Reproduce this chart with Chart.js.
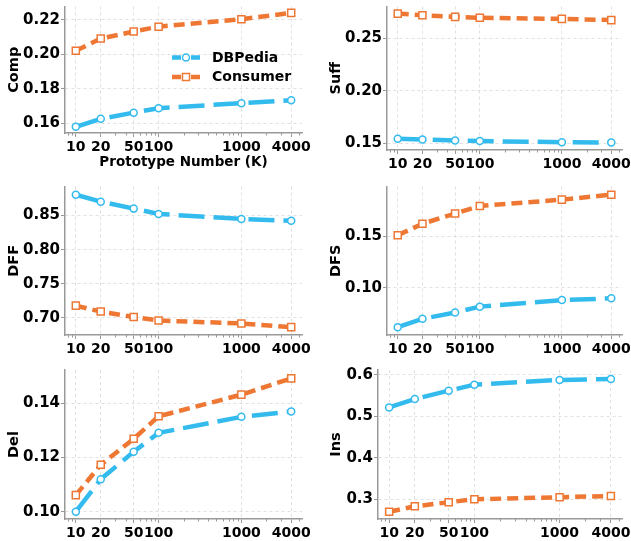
<!DOCTYPE html>
<html>
<head>
<meta charset="utf-8">
<script src="https://cdn.jsdelivr.net/npm/chart.js@4.4.0/dist/chart.umd.min.js"></script>
<style>
    body { margin: 0; background: #fff; }
    #wrap { position: relative; width: 631px; height: 541px; }
    canvas { position: absolute; }
</style>
</head>
<body>
<div id="wrap">
    <canvas id="c-comp" width="315" height="180" style="left:0;top:0"></canvas>
    <canvas id="c-suff" width="316" height="180" style="left:315px;top:0"></canvas>
    <canvas id="c-dff" width="315" height="180" style="left:0;top:180px"></canvas>
    <canvas id="c-dfs" width="316" height="180" style="left:315px;top:180px"></canvas>
    <canvas id="c-del" width="315" height="181" style="left:0;top:360px"></canvas>
    <canvas id="c-ins" width="316" height="181" style="left:315px;top:360px"></canvas>
</div>
<script>
'use strict';

var prototypes = [10, 20, 50, 100, 1000, 4000];
var minorTicks = [8, 9, 30, 40, 60, 70, 80, 90, 200, 300, 400, 500, 600, 700, 800, 900, 2000, 3000, 5000];
var seriesNames = ['DBPedia', 'Consumer'];

var compDBPedia = [0.1580, 0.1626, 0.1662, 0.1688, 0.1717, 0.1734];
var compConsumer = [0.2021, 0.2092, 0.2133, 0.2161, 0.2204, 0.2241];
var suffDBPedia = [0.1543, 0.1535, 0.1525, 0.1520, 0.1510, 0.1507];
var suffConsumer = [0.2738, 0.2722, 0.2707, 0.2698, 0.2688, 0.2676];
var dffDBPedia = [0.8804, 0.8703, 0.8601, 0.8523, 0.8450, 0.8422];
var dffConsumer = [0.7180, 0.7093, 0.7014, 0.6962, 0.6919, 0.6865];
var dfsDBPedia = [0.0620, 0.0700, 0.0761, 0.0818, 0.0881, 0.0898];
var dfsConsumer = [0.1507, 0.1618, 0.1717, 0.1790, 0.1851, 0.1899];
var delDBPedia = [0.1000, 0.1120, 0.1221, 0.1291, 0.1350, 0.1370];
var delConsumer = [0.1061, 0.1173, 0.1269, 0.1352, 0.1432, 0.1492];
var insDBPedia = [0.5217, 0.5420, 0.5620, 0.5766, 0.5880, 0.5900];
var insConsumer = [0.2700, 0.2830, 0.2928, 0.3000, 0.3050, 0.3080];

var compTicks = [0.16, 0.18, 0.20, 0.22];
var suffTicks = [0.15, 0.20, 0.25];
var dffTicks = [0.70, 0.75, 0.80, 0.85];
var dfsTicks = [0.10, 0.15];
var delTicks = [0.10, 0.12, 0.14];
var insTicks = [0.3, 0.4, 0.5, 0.6];

var BLUE = '#33BBEE';
var ORANGE = '#EE7733';
var FONT = '"DejaVu Sans", sans-serif';

var panels = [
    { id: 'c-comp', label: 'Comp', db: compDBPedia, cs: compConsumer, ticks: compTicks, dec: 2, ymin: 0.1544, ymax: 0.2278, yw: 65, xh: 47, top: 2, right: 13, tpad: 7, xTitle: true, legend: true },
    { id: 'c-suff', label: 'Suff', db: suffDBPedia, cs: suffConsumer, ticks: suffTicks, dec: 2, ymin: 0.1435, ymax: 0.2806, yw: 72, xh: 30, top: 2, right: 9, tpad: 14 },
    { id: 'c-dff', label: 'DFF', db: dffDBPedia, cs: dffConsumer, ticks: dffTicks, dec: 2, ymin: 0.675, ymax: 0.8925, yw: 65, xh: 25, top: 5, right: 13, tpad: 7 },
    { id: 'c-dfs', label: 'DFS', db: dfsDBPedia, cs: dfsConsumer, ticks: dfsTicks, dec: 2, ymin: 0.0544, ymax: 0.1978, yw: 72, xh: 25, top: 5, right: 9, tpad: 14 },
    { id: 'c-del', label: 'Del', db: delDBPedia, cs: delConsumer, ticks: delTicks, dec: 2, ymin: 0.0973, ymax: 0.1523, yw: 65, xh: 22, top: 10, right: 13, tpad: 7 },
    { id: 'c-ins', label: 'Ins', db: insDBPedia, cs: insConsumer, ticks: insTicks, dec: 1, ymin: 0.2524, ymax: 0.612, yw: 63, xh: 22, top: 10, right: 9, tpad: 14 }
];

// small log-axis minor ticks, like matplotlib
var minorTickPlugin = {
    id: 'minorTicks',
    afterDraw: function (chart) {
        var sx = chart.scales.x;
        var ctx = chart.ctx;
        var y0 = chart.chartArea.bottom;
        ctx.save();
        ctx.strokeStyle = '#999';
        ctx.lineWidth = 1;
        ctx.beginPath();
        minorTicks.forEach(function (v) {
            var px = Math.round(sx.getPixelForValue(v)) + 0.5;
            if (px < chart.chartArea.left || px > chart.chartArea.right) return;
            ctx.moveTo(px, y0);
            ctx.lineTo(px, y0 + 2.5);
        });
        ctx.stroke();
        ctx.restore();
    }
};

// legend drawn inside the first panel
var innerLegendPlugin = {
    id: 'innerLegend',
    afterDraw: function (chart, args, opts) {
        if (!opts.show) return;
        var ctx = chart.ctx;
        var rows = [57.5, 77];
        chart.data.datasets.forEach(function (ds, i) {
            var y = rows[i];
            ctx.save();
            ctx.strokeStyle = ds.borderColor;
            ctx.lineWidth = ds.borderWidth;
            ctx.beginPath();
            ctx.moveTo(172, y);
            ctx.lineTo(181, y);
            ctx.moveTo(191, y);
            ctx.lineTo(200, y);
            ctx.stroke();
            ctx.fillStyle = ds.pointBackgroundColor;
            ctx.lineWidth = ds.pointBorderWidth;
            ctx.beginPath();
            if (ds.pointStyle === 'rect') {
                var s = ds.pointRadius * Math.SQRT1_2;
                ctx.rect(186 - s, y - s, 2 * s, 2 * s);
            } else {
                ctx.arc(186, y, ds.pointRadius, 0, Math.PI * 2);
            }
            ctx.fill();
            ctx.stroke();
            ctx.fillStyle = '#000';
            ctx.font = 'bold 14px ' + FONT;
            ctx.textBaseline = 'middle';
            ctx.fillText(ds.label, 212, y + 0.5);
            ctx.restore();
        });
    }
};

function toPoints(values) {
    return prototypes.map(function (p, i) { return { x: p, y: values[i] }; });
}

panels.forEach(function (p) {
    var datasets = [
        {
            label: seriesNames[0],
            data: toPoints(p.db),
            borderColor: BLUE,
            borderWidth: 4.5,
            borderDash: [26, 9],
            pointStyle: 'circle',
            pointRadius: 3.5,
            pointBorderWidth: 1.5,
            pointBackgroundColor: '#fff',
            pointBorderColor: BLUE,
            tension: 0
        },
        {
            label: seriesNames[1],
            data: toPoints(p.cs),
            borderColor: ORANGE,
            borderWidth: 4.5,
            borderDash: [11, 6],
            pointStyle: 'rect',
            pointRadius: 5,
            pointBorderWidth: 1.5,
            pointBackgroundColor: '#fff',
            pointBorderColor: ORANGE,
            tension: 0
        }
    ];

    new Chart(document.getElementById(p.id), {
        type: 'line',
        data: { datasets: datasets },
        plugins: [minorTickPlugin, innerLegendPlugin],
        options: {
            responsive: false,
            animation: false,
            events: [],
            layout: { padding: { top: p.top, right: p.right, left: 0, bottom: 0 } },
            plugins: {
                legend: { display: false },
                tooltip: { enabled: false },
                innerLegend: { show: !!p.legend }
            },
            scales: {
                x: {
                    type: 'logarithmic',
                    min: 7.4,
                    max: 5400,
                    afterBuildTicks: function (s) {
                        s.ticks = prototypes.map(function (v) { return { value: v }; });
                    },
                    afterFit: function (s) {
                        s.height = p.xh;
                        s.paddingLeft = 0;
                        s.paddingRight = 0;
                    },
                    ticks: {
                        autoSkip: false,
                        maxRotation: 0,
                        minRotation: 0,
                        padding: 2,
                        color: '#000',
                        font: { family: FONT, weight: 'bold', size: 14 },
                        callback: function (v) { return String(v); }
                    },
                    grid: {
                        color: '#d9d9d9',
                        lineWidth: 0.8,
                        tickLength: 4,
                        tickColor: '#999',
                        tickWidth: 1
                    },
                    border: { color: '#999', width: 1.5, dash: [3, 3] },
                    title: {
                        display: !!p.xTitle,
                        text: 'Prototype Number (K)',
                        color: '#000',
                        font: { family: FONT, weight: 'bold', size: 13.5 },
                        padding: { top: 0, bottom: 9 }
                    }
                },
                y: {
                    min: p.ymin,
                    max: p.ymax,
                    afterBuildTicks: function (s) {
                        s.ticks = p.ticks.map(function (v) { return { value: v }; });
                    },
                    afterFit: function (s) {
                        s.width = p.yw;
                        s.paddingTop = 0;
                        s.paddingBottom = 0;
                    },
                    ticks: {
                        padding: 1,
                        color: '#000',
                        font: { family: FONT, weight: 'bold', size: 15 },
                        callback: function (v) { return Number(v).toFixed(p.dec); }
                    },
                    grid: {
                        color: '#d9d9d9',
                        lineWidth: 0.8,
                        tickLength: 4,
                        tickColor: '#999',
                        tickWidth: 1
                    },
                    border: { color: '#999', width: 1.5, dash: [3, 3] },
                    title: {
                        display: true,
                        text: p.label,
                        color: '#000',
                        font: { family: FONT, weight: 'bold', size: 14.5 },
                        padding: { top: p.tpad - 1, bottom: 0 }
                    }
                }
            }
        }
    });
});
</script>
</body>
</html>
